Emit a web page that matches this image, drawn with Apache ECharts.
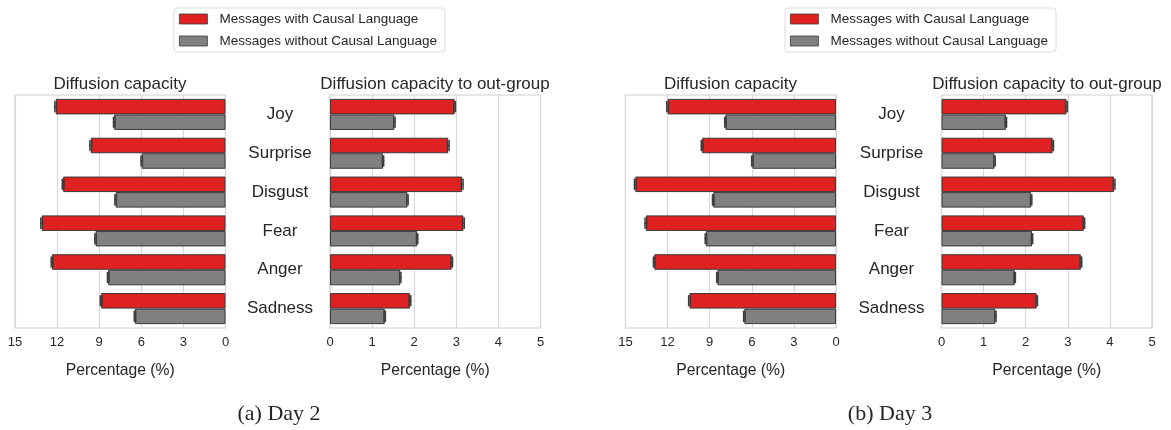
<!DOCTYPE html>
<html>
<head>
<meta charset="utf-8">
<script src="https://cdn.jsdelivr.net/npm/echarts@6/dist/echarts.min.js"></script>
<style>
  html, body { margin: 0; padding: 0; background: #fff; }
  #chart { width: 1171px; height: 430px; }
</style>
</head>
<body>
<div id="chart"></div>
<script>
// Emotion categories (top to bottom)
const emotions = ['Joy', 'Surprise', 'Disgust', 'Fear', 'Anger', 'Sadness'];
const seriesNames = ['Messages with Causal Language', 'Messages without Causal Language'];

// Day 2 — diffusion capacity (%)
const day2CapCausal   = [12.1, 9.6, 11.57, 13.1, 12.36, 8.86];
const day2CapNoCausal = [7.93, 5.97, 7.83, 9.26, 8.36, 6.45];
// Day 2 — diffusion capacity to out-group (%)
const day2OutCausal   = [2.96, 2.81, 3.14, 3.17, 2.89, 1.9];
const day2OutNoCausal = [1.53, 1.26, 1.84, 2.07, 1.67, 1.3];

// Day 3 — diffusion capacity (%)
const day3CapCausal   = [12.0, 9.54, 14.3, 13.55, 12.95, 10.44];
const day3CapNoCausal = [7.88, 5.96, 8.75, 9.27, 8.45, 6.53];
// Day 3 — diffusion capacity to out-group (%)
const day3OutCausal   = [2.97, 2.64, 4.1, 3.38, 3.31, 2.26];
const day3OutNoCausal = [1.53, 1.26, 2.13, 2.15, 1.74, 1.28];

// Confidence-interval half widths
const capErrCausal   = [0.06, 0.06, 0.06, 0.06, 0.06, 0.06];
const capErrNoCausal = [0.05, 0.05, 0.05, 0.05, 0.05, 0.05];
const outErrCausal   = [0.02, 0.02, 0.02, 0.02, 0.02, 0.02];
const outErrNoCausal = [0.015, 0.015, 0.015, 0.015, 0.015, 0.015];

// Axis ticks
const capTicks = { min: 0, max: 15, interval: 3 };
const outTicks = { min: 0, max: 5, interval: 1 };

const panelTitles = ['Diffusion capacity', 'Diffusion capacity to out-group'];
const captions = ['(a) Day 2', '(b) Day 3'];
const axisName = 'Percentage (%)';

const RED = '#df2121';
const GREY = '#808080';
const EDGE = '#3a3a3a';
const TEXT = '#262626';
const FONT = '"Liberation Sans", Arial, Helvetica, sans-serif';
const SERIF = '"Liberation Serif", "Times New Roman", serif';

const chart = echarts.init(document.getElementById('chart'));

const grids = [
  { left: 15,    top: 95, width: 210.5, height: 233 },
  { left: 330,   top: 95, width: 210.5, height: 233 },
  { left: 625.5, top: 95, width: 210.5, height: 233 },
  { left: 941.5, top: 95, width: 210.5, height: 233 }
].map(g => Object.assign(g, { show: true, borderColor: '#cfcfcf', borderWidth: 1.2, backgroundColor: '#fff' }));

function xAxisFor(gridIndex, ticks, inverse) {
  return {
    type: 'value', gridIndex, inverse,
    min: ticks.min, max: ticks.max, interval: ticks.interval,
    axisLine: { show: false }, axisTick: { show: false },
    splitLine: { show: true, lineStyle: { color: '#d9d9d9', width: 1.2 } },
    axisLabel: { fontSize: 13, color: TEXT, fontFamily: FONT, margin: 8 },
    name: axisName, nameLocation: 'middle', nameGap: 35,
    nameTextStyle: { fontSize: 15.7, color: TEXT, fontFamily: FONT }
  };
}
function yAxisFor(gridIndex, showLabels) {
  return {
    type: 'category', gridIndex, data: emotions, inverse: true,
    axisLine: { show: false }, axisTick: { show: false },
    splitLine: { show: false },
    axisLabel: { show: showLabels, align: 'center', margin: 50, fontSize: 17, color: TEXT, fontFamily: FONT }
  };
}

function barSeries(name, color, axisIdx, data) {
  return {
    type: 'bar', name, xAxisIndex: axisIdx, yAxisIndex: axisIdx, data,
    barWidth: '40%', barGap: '0%',
    itemStyle: { color, borderColor: EDGE, borderWidth: 1 },
    emphasis: { disabled: true }, animation: false
  };
}

// Short error bar with caps drawn at each bar end
function errSeries(axisIdx, values, errs, side) {
  return {
    type: 'custom', xAxisIndex: axisIdx, yAxisIndex: axisIdx,
    encode: { x: 0, y: 1 }, silent: true, animation: false, z: 5,
    data: values.map((v, i) => [v, i, errs[i], side]),
    renderItem(params, api) {
      const v = api.value(0), c = api.value(1), e = api.value(2), s = api.value(3);
      const a = api.coord([v - e, c]);
      const b = api.coord([v + e, c]);
      const band = api.size([0, 1])[1];
      const yc = a[1] + s * band * 0.2;
      const h = band * 0.26;
      const style = { stroke: '#3d3d3d', lineWidth: 1.5, lineCap: 'round' };
      return {
        type: 'group',
        children: [
          { type: 'line', shape: { x1: a[0], y1: yc, x2: b[0], y2: yc }, style },
          { type: 'line', shape: { x1: a[0], y1: yc - h / 2, x2: a[0], y2: yc + h / 2 }, style },
          { type: 'line', shape: { x1: b[0], y1: yc - h / 2, x2: b[0], y2: yc + h / 2 }, style }
        ]
      };
    }
  };
}

const panels = [
  { causal: day2CapCausal, noCausal: day2CapNoCausal, errC: capErrCausal, errN: capErrNoCausal },
  { causal: day2OutCausal, noCausal: day2OutNoCausal, errC: outErrCausal, errN: outErrNoCausal },
  { causal: day3CapCausal, noCausal: day3CapNoCausal, errC: capErrCausal, errN: capErrNoCausal },
  { causal: day3OutCausal, noCausal: day3OutNoCausal, errC: outErrCausal, errN: outErrNoCausal }
];

const series = [];
panels.forEach((p, i) => {
  series.push(barSeries(seriesNames[0], RED, i, p.causal));
  series.push(barSeries(seriesNames[1], GREY, i, p.noCausal));
  series.push(errSeries(i, p.causal, p.errC, -1));
  series.push(errSeries(i, p.noCausal, p.errN, 1));
});

function legendAt(left) {
  return {
    data: seriesNames, orient: 'vertical', left, top: 8,
    itemWidth: 28, itemHeight: 10, itemGap: 8,
    icon: 'rect', selectedMode: false,
    itemStyle: { borderWidth: 0.8, borderColor: EDGE },
    borderColor: '#dcdcdc', borderWidth: 1, borderRadius: 3,
    padding: [4, 8, 4, 5],
    textStyle: { fontSize: 13.5, color: TEXT, fontFamily: FONT, padding: [0, 0, 0, 7] }
  };
}

const textEl = (x, y, text, size, family) => ({
  type: 'text', x, y,
  style: { text, fill: TEXT, font: size + 'px ' + family, textAlign: 'center', textVerticalAlign: 'middle' }
});

chart.setOption({
  backgroundColor: '#fff',
  animation: false,
  legend: [legendAt(174), legendAt(785)],
  grid: grids,
  xAxis: [
    xAxisFor(0, capTicks, true), xAxisFor(1, outTicks, false),
    xAxisFor(2, capTicks, true), xAxisFor(3, outTicks, false)
  ],
  yAxis: [yAxisFor(0, false), yAxisFor(1, true), yAxisFor(2, false), yAxisFor(3, true)],
  series,
  graphic: [
    textEl(120, 84, panelTitles[0], 17, FONT),
    textEl(435, 84, panelTitles[1], 17, FONT),
    textEl(730.5, 84, panelTitles[0], 17, FONT),
    textEl(1047, 84, panelTitles[1], 17, FONT),
    textEl(279, 414, captions[0], 22, SERIF),
    textEl(890, 414, captions[1], 22, SERIF)
  ]
});
</script>
</body>
</html>
